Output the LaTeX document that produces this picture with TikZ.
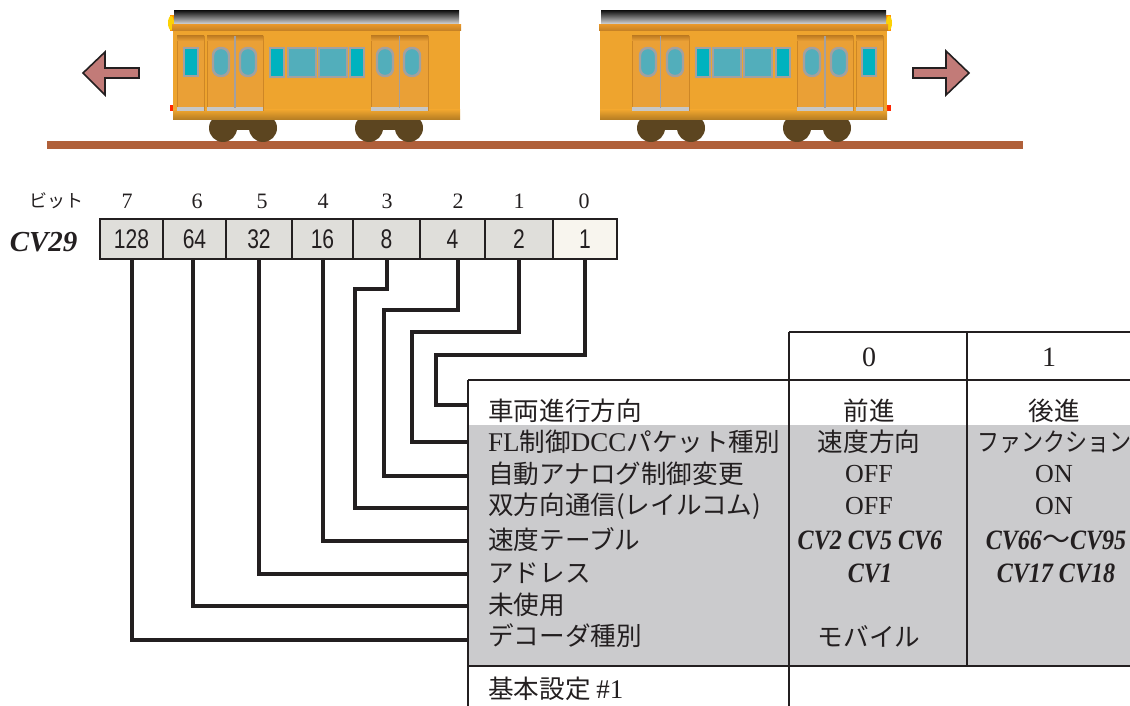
\documentclass[tikz,border=0pt]{standalone}
\usepackage{fontspec}
\setmainfont{Liberation Serif}
\newfontfamily\jp{Noto Sans CJK JP}
\newfontfamily\cond[FakeStretch=0.78]{Liberation Sans}
\newfontfamily\cvfont[FakeStretch=0.86]{Liberation Serif}
\usetikzlibrary{calc}

\definecolor{ink}{HTML}{231F20}
\definecolor{bodyorange}{HTML}{EEA42E}
\definecolor{striporange}{HTML}{E4952A}
\definecolor{doororange}{HTML}{EAA036}
\definecolor{framegray}{HTML}{A3A0A0}
\definecolor{glassteal}{HTML}{00B2BF}
\definecolor{glassblue}{HTML}{52AEBB}
\definecolor{wheelbrown}{HTML}{5C4520}
\definecolor{railbrown}{HTML}{B0603A}
\definecolor{arrowpink}{HTML}{C27B78}
\definecolor{cellgray}{HTML}{DFDEDA}
\definecolor{cellcream}{HTML}{F8F5EE}
\definecolor{tablegray}{HTML}{CBCBCD}

% one carriage, drawn facing left; mirror it for the other one
\newcommand{\drawcarriage}{%
  % bogies and wheels
  \foreach \a/\b in {223/263, 369/409}{
    \fill[wheelbrown] (\a,118) rectangle (\b,130);
    \fill[wheelbrown] (\a,128) circle (14);
    \fill[wheelbrown] (\b,128) circle (14);
  }
  % head and tail lights
  \fill[orange!85!yellow] (169.5,15) rectangle (174,31);
  \fill[yellow!70!orange] (171,23) ellipse (3 and 7);
  \fill[red!70!orange] (169.5,105) rectangle (174,111);
  % roof
  \shade[top color=black!90, bottom color=black!10] (174,11) rectangle (459,25);
  % body
  \fill[bodyorange] (173,29) rectangle (460,120);
  \shade[top color=bodyorange, bottom color=bodyorange!75!black] (173,110) rectangle (460,120);
  \shade[top color=striporange, bottom color=striporange!85!black] (172,25) rectangle (461,31);
  % doors
  \foreach \l/\r in {177/204, 207/263, 371/428}{
    \fill[doororange] (\l,36) rectangle (\r,110);
    \draw[striporange!90!black, line width=0.6] (\l,36) rectangle (\r,110);
    \shade[top color=striporange!85!black, bottom color=doororange] (\l,36) rectangle (\r,41);
    \fill[black!22] (\l,107.5) rectangle (\r,111);
  }
  \draw[framegray, line width=1.6] (235,36) -- (235,108);
  \draw[framegray, line width=1.6] (399.5,36) -- (399.5,108);
  % windows
  \tikzset{pane/.style={draw=framegray, line width=2.4}}
  \filldraw[pane, fill=glassteal] (184,48) rectangle (198,76);
  \filldraw[pane, fill=glassteal] (270,48) rectangle (284,77);
  \filldraw[pane, fill=glassblue] (288,48) rectangle (316,77);
  \filldraw[pane, fill=glassblue] (319,48) rectangle (347,77);
  \filldraw[pane, fill=glassteal] (350,48) rectangle (364,77);
  \foreach \c in {221, 248, 385, 412}{
    \filldraw[pane, fill=glassblue, rounded corners=7.5] (\c-8,48) rectangle (\c+8,76);
  }
}

\tikzset{
  bitcell/.style={draw=ink, line width=1.6, fill=cellgray, inner sep=0pt,
    minimum height=40, font=\fontsize{27}{30}\selectfont\cond, text=ink},
  bitnum/.style={font=\fontsize{22}{24}\selectfont, text=ink},
  wire/.style={draw=ink, line width=4, line join=miter},
  grid/.style={draw=ink, line width=1.8},
  rowlabel/.style={anchor=west, inner sep=0pt, font=\fontsize{25.6}{30}\selectfont\jp, text=ink},
  cellval/.style={inner sep=0pt, font=\fontsize{26}{30}\selectfont, text=ink},
  jpval/.style={inner sep=0pt, font=\fontsize{25.6}{30}\selectfont\jp, text=ink},
  cvval/.style={inner sep=0pt, font=\fontsize{28}{30}\selectfont\cvfont\bfseries\itshape, text=ink},
  movearrow/.style={fill=arrowpink, draw=ink, line width=1.6, line join=miter},
}
\newcommand{\lat}[1]{{\fontsize{27}{30}\selectfont\rmfamily #1}}

\begin{document}
\begin{tikzpicture}[x=1pt, y=-1pt]
\useasboundingbox (0,0) rectangle (1130,706);

% ---- carriages on the track ----
\fill[railbrown] (47,141) rectangle (1023,149);
\drawcarriage
\begin{scope}[shift={(1060,0)}, xscale=-1]
  \drawcarriage
\end{scope}

% direction arrows
\draw[movearrow] (83,73) -- (105,52) -- (105,68) -- (139,68) -- (139,78)
  -- (105,78) -- (105,95) -- cycle;
\draw[movearrow] (969,73) -- (946,51) -- (946,68) -- (913,68) -- (913,78)
  -- (946,78) -- (946,95) -- cycle;

% ---- CV29 bit register ----
\node[font=\fontsize{29}{32}\selectfont\bfseries\itshape, text=ink, anchor=east] (cvname) at (81,242) {CV29};
\node[font=\fontsize{18}{20}\selectfont\jp, text=ink] (bitword) at (56,201) {ビット};

\node[bitcell, minimum width=63] (b7) at (131.5,239) {128};
\node[bitcell, minimum width=63] (b6) at (194.5,239) {64};
\node[bitcell, minimum width=66] (b5) at (259,239) {32};
\node[bitcell, minimum width=61] (b4) at (322.5,239) {16};
\node[bitcell, minimum width=67] (b3) at (386.5,239) {8};
\node[bitcell, minimum width=65] (b2) at (452.5,239) {4};
\node[bitcell, minimum width=68] (b1) at (519,239) {2};
\node[bitcell, minimum width=64, fill=cellcream] (b0) at (585,239) {1};

\foreach \i/\x in {7/127, 6/197, 5/262, 4/323, 3/387, 2/458, 1/519, 0/584}{
  \node[bitnum] (n\i) at (\x,201) {\i};
}

% ---- settings table ----
\fill[tablegray] (468,425) rectangle (1135,666);
\draw[grid] (789,332) -- (1135,332);
\draw[grid] (468,380) -- (1135,380);
\draw[grid] (468,666) -- (1135,666);
\draw[grid] (468,380) -- (468,710);
\draw[grid] (789,332) -- (789,710);
\draw[grid] (967,332) -- (967,666);

\node[cellval, font=\fontsize{28}{30}\selectfont] (h0) at (869,357) {0};
\node[cellval, font=\fontsize{28}{30}\selectfont] (h1) at (1049,357) {1};

\node[rowlabel] (r0) at (488,411) {車両進行方向};
\node[rowlabel] (r1) at (488,442) {\lat{FL}制御\lat{DCC}パケット種別};
\node[rowlabel] (r2) at (488,474) {自動アナログ制御変更};
\node[rowlabel] (r3) at (488,506) {双方向通信(レイルコム)};
\node[rowlabel] (r4) at (488,540) {速度テーブル};
\node[rowlabel] (r5) at (488,573) {アドレス};
\node[rowlabel] (r6) at (488,605) {未使用};
\node[rowlabel] (r7) at (488,636) {デコーダ種別};
\node[rowlabel] (base) at (488,689) {基本設定 \lat{\#1}};

\node[jpval] (z0) at (869,411) {前進};
\node[jpval] (o0) at (1054,411) {後進};
\node[jpval] (z1) at (869,442) {速度方向};
\node[jpval, anchor=west] (o1) at (977,442) {\scalebox{0.86}[1]{ファンクション}};
\node[cellval] (z2) at (869,474) {OFF};
\node[cellval] (o2) at (1054,474) {ON};
\node[cellval] (z3) at (869,506) {OFF};
\node[cellval] (o3) at (1054,506) {ON};
\node[cvval] (z4) at (870,540) {CV2 CV5 CV6};
\node[cvval] (o4) at (1056,540) {CV66{\mdseries\upshape\jp ～}CV95};
\node[cvval] (z5) at (870,573) {CV1};
\node[cvval] (o5) at (1056,573) {CV17 CV18};
\node[jpval] (z7) at (869,636) {モバイル};

% ---- wiring from each bit to its row ----
\foreach \i/\y in {0/405, 1/442, 2/476, 3/508, 4/541, 5/574, 6/606, 7/640}{
  \coordinate (e\i) at (468,\y);
}
\draw[wire] (b0.south) |- (436,355) |- (e0);
\draw[wire] (b1.south) |- (412,332) |- (e1);
\draw[wire] ($(b2.south)+(5,0)$) |- (384,310) |- (e2);
\draw[wire] (b3.south) |- (355,289) |- (e3);
\draw[wire] (b4.south) |- (e4);
\draw[wire] (b5.south) |- (e5);
\draw[wire] ($(b6.south)+(-2,0)$) |- (e6);
\draw[wire] (b7.south) |- (e7);
\end{tikzpicture}
\end{document}
